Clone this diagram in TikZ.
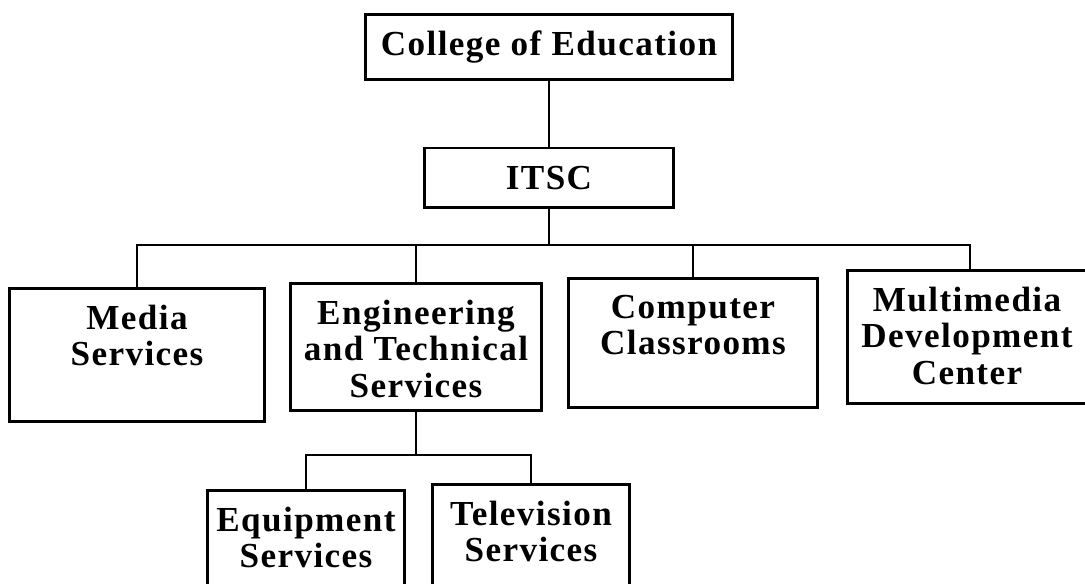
\documentclass[tikz,border=0pt]{standalone}
\usepackage{fontspec}
\setmainfont{Liberation Serif}[LetterSpace=4]
\usetikzlibrary{positioning}

\tikzset{
	unit/.style={draw=black, line width=1.7pt, inner sep=0pt},
	caption/.style={font=\bfseries\fontsize{20}{20.6}\selectfont, align=center, inner sep=0pt},
	link/.style={line width=1.2pt}
}

\begin{document}
\begin{tikzpicture}[x=0.02cm, y=-0.02cm]
		\useasboundingbox (0,0) rectangle (1085,584);
		
		\node [unit, caption, minimum width=7.34cm, minimum height=1.3cm] (coe) at (549,47) {College of Education};
		\node [unit, caption, minimum width=5.0cm, minimum height=1.2cm] (itsc) at (549,178) {ITSC};
		
		\node [unit, minimum width=5.1cm, minimum height=2.68cm] (media) at (137,355) {};
		\node [unit, minimum width=5.04cm, minimum height=2.56cm] (eng) at (416,347) {};
		\node [unit, minimum width=5.0cm, minimum height=2.6cm] (comp) at (693,343) {};
		\node [unit, minimum width=4.9cm, minimum height=2.68cm] (multi) at (970,337) {};
		
		\node [unit, minimum width=3.94cm, minimum height=2.4cm] (equip) at (306,550) {};
		\node [unit, minimum width=3.94cm, minimum height=2.4cm] (tv) at (531,544) {};
		
		\node [caption, below=0.37cm of media.north] (mediatxt) {Media\\Services};
		\node [caption, below=0.37cm of eng.north] (engtxt) {Engineering\\and Technical\\Services};
		\node [caption, below=0.37cm of comp.north] (comptxt) {Computer\\Classrooms};
		\node [caption, below=0.37cm of multi.north, xshift=-0.06cm] (multitxt) {Multimedia\\Development\\Center};
		\node [caption, below=0.37cm of equip.north] (equiptxt) {Equipment\\Services};
		\node [caption, below=0.37cm of tv.north] (tvtxt) {Television\\Services};
		
		\coordinate (bus) at (549,245);
		\coordinate (subbus) at (416,455);
		
		\draw [link] (coe.south) -- (itsc.north);
		\draw [link] (itsc.south) -- (bus);
		\foreach \b in {media, eng, comp, multi}
			\draw [link] (bus) -| (\b.north);
		
		\draw [link] (eng.south) -- (subbus);
		\foreach \b in {equip, tv}
			\draw [link] (subbus) -| (\b.north);
	\end{tikzpicture}
\end{document}
